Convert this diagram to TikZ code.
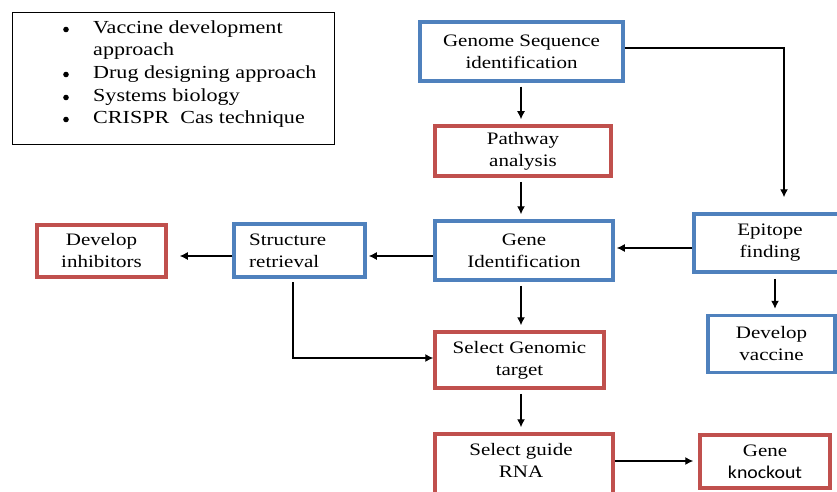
\documentclass[tikz,border=0pt]{standalone}
\usepackage{fontspec}
\setmainfont{Liberation Serif}[FakeStretch=1.2]
\newfontfamily\kofont{Carlito}[FakeStretch=1.1]
\usetikzlibrary{arrows.meta}
\definecolor{boxblue}{HTML}{4F81BD}
\definecolor{boxred}{HTML}{C0504D}
\begin{document}
\begin{tikzpicture}[x=1pt,y=-1pt,
  every node/.style={font=\fontsize{17.5}{22}\selectfont},
  legendtext/.style={anchor=base west,inner sep=0pt,font=\fontsize{18.4}{23}\selectfont},
  bluebox/.style={draw=boxblue,line width=3.5pt,fill=white,align=center,inner sep=0pt},
  redbox/.style={draw=boxred,line width=3.5pt,fill=white,align=center,inner sep=0pt},
  conn/.style={line width=1.3pt,-{Latex[length=8pt,width=8pt]}}]
\useasboundingbox (0,0) rectangle (837,492);
\clip (0,0) rectangle (837,492);
\fill[white] (0,0) rectangle (837,492);

% legend
\node[draw=black,line width=1pt,minimum width=322pt,minimum height=132pt,inner sep=0pt] (legend) at (173.5,78.5) {};
\foreach \yy/\t/\b in {34/Vaccine development/1,56/approach/0,79/Drug designing approach/1,102/Systems biology/1,124/CRISPR\ \ Cas technique/1}{
  \ifnum\b=1 \fill (66,\yy-4.5) circle (2.8pt); \fi
  \node[legendtext] at (93,\yy) {\t};
}

% process boxes
\node[bluebox,minimum width=203pt,minimum height=59pt] (gs) at (521.5,51.5) {Genome Sequence\\identification};
\node[redbox,minimum width=176pt,minimum height=50pt] (pa) at (523,151) {Pathway\\analysis};
\node[bluebox,minimum width=178pt,minimum height=59pt] (gi) at (524,250.5) {Gene\\Identification};
\node[bluebox,minimum width=152pt,minimum height=58pt] (ep) at (770,243) {Epitope\\finding};
\node[bluebox,minimum width=127pt,minimum height=57pt] (dv) at (771.5,344) {Develop\\vaccine};
\node[bluebox,minimum width=131pt,minimum height=53pt] (sr) at (299.5,250.5) {};
\node[align=left,inner sep=0pt,anchor=west] (srt) at (249,250.5) {Structure\\retrieval};
\node[redbox,minimum width=129pt,minimum height=52pt] (di) at (101.5,251) {Develop\\inhibitors};
\node[redbox,minimum width=169pt,minimum height=56pt] (sg) at (519.5,360) {Select Genomic\\target};
\node[redbox,minimum width=178pt,minimum height=70pt] (rna) at (524,469) {};
\node[inner sep=0pt,align=center] (rnat) at (521,460) {Select guide\\RNA};
\node[redbox,minimum width=130pt,minimum height=53pt] (ko) at (765,461.5) {Gene\\{\kofont\fontsize{18}{22}\selectfont knockout}};

% connectors
\coordinate (spine) at (521,0);
\draw[conn] ([yshift=-4pt]gs.south -| spine) -- ([yshift=5pt]pa.north -| spine);
\draw[conn] ([yshift=-4pt]pa.south -| spine) -- ([yshift=5pt]gi.north -| spine);
\coordinate (turn) at (784,48);
\draw[conn] (gs.east |- turn) -- (turn) -- ([yshift=15pt]turn |- ep.north);
\draw[conn] (ep.west |- 0,248) -- ([xshift=2pt]gi.east |- 0,248);
\draw[conn] (gi.west |- 0,256) -- ([xshift=2pt]sr.east |- 0,256);
\draw[conn] (sr.west |- 0,256) -- ([xshift=12pt]di.east |- 0,256);
\draw[conn] ([yshift=-4pt]gi.south -| spine) -- ([yshift=5pt]sg.north -| spine);
\draw[conn] (293,282) -- (293,358) -- (sg.west |- 0,358);
\draw[conn] ([yshift=-4pt]sg.south -| spine) -- ([yshift=5pt]rna.north -| spine);
\draw[conn] ([yshift=-5pt]ep.south -| 775,0) -- ([yshift=5pt]dv.north -| 775,0);
\draw[conn] (rna.east |- 0,461) -- ([xshift=-5pt]ko.west |- 0,461);
\end{tikzpicture}
\end{document}
